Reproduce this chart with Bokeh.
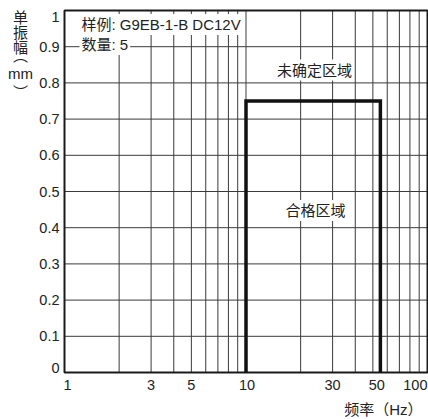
import math
from bokeh.plotting import figure
from bokeh.models import Range1d, Label, ColumnDataSource
from bokeh.embed import file_html
from bokeh.resources import INLINE

# ---- data ----
freq_grid = [1, 2, 3, 4, 5, 6, 7, 8, 9, 10, 20, 30, 40, 50, 60, 70, 80, 90, 100]
amp_grid = [0.0, 0.1, 0.2, 0.3, 0.4, 0.5, 0.6, 0.7, 0.8, 0.9, 1.0]
x_tick_values = [1, 3, 5, 10, 30, 50, 100]
x_tick_labels = ["1", "3", "5", "10", "30", "50", "100"]
y_tick_values = [0.0, 0.1, 0.2, 0.3, 0.4, 0.5, 0.6, 0.7, 0.8, 0.9, 1.0]
y_tick_labels = ["0", "0.1", "0.2", "0.3", "0.4", "0.5", "0.6", "0.7", "0.8", "0.9", "1"]
zone_freq = [10, 10, 55, 55]
zone_amp = [0.0, 0.75, 0.75, 0.0]

# ---- layout (pixels) ----
W, H = 428, 419
PL, PR, PT, PB = 64, 427, 10, 372          # plot-area edges on canvas
xmin, xmax = freq_grid[0], freq_grid[-1]
ymin, ymax = amp_grid[0], amp_grid[-1]
ppd = (PR - PL) / (math.log10(xmax) - math.log10(xmin))   # px per decade
ppu = (PB - PT) / (ymax - ymin)                           # px per unit
x_start = 10 ** (math.log10(xmin) - PL / ppd)
x_end = 10 ** (math.log10(xmax) + (W - PR) / ppd)
y_start = ymin - (H - PB) / ppu
y_end = ymax + PT / ppu

def xd(px):
    return 10 ** (math.log10(xmin) + (px - PL) / ppd)

def yd(py):
    return ymin + (PB - py) / ppu

FONT = "Liberation Sans, Noto Sans CJK SC"
FS_TICK = "14.5px"
FS = "15px"
TXT = "#222222"

p = figure(width=W, height=H, x_axis_type="log",
           x_range=Range1d(x_start, x_end), y_range=Range1d(y_start, y_end),
           output_backend="svg", toolbar_location=None,
           min_border=0, min_border_left=0, min_border_right=0,
           min_border_top=0, min_border_bottom=0)
p.xaxis.visible = False
p.yaxis.visible = False
p.xgrid.visible = False
p.ygrid.visible = False
p.outline_line_color = None
p.background_fill_color = "white"
p.border_fill_color = "white"

# grid lines
vgrid = ColumnDataSource(dict(x=freq_grid, y0=[ymin] * len(freq_grid), y1=[ymax] * len(freq_grid)))
hgrid = ColumnDataSource(dict(y=amp_grid, x0=[xmin] * len(amp_grid), x1=[xmax] * len(amp_grid)))
p.segment(x0="x", y0="y0", x1="x", y1="y1", source=vgrid, line_color="#3a3a3a", line_width=1)
p.segment(x0="x0", y0="y", x1="x1", y1="y", source=hgrid, line_color="#3a3a3a", line_width=1)

# plot-area frame
p.quad(left=[xmin], right=[xmax], bottom=[ymin], top=[ymax], fill_color=None,
       line_color="#1a1a1a", line_width=2)

# acceptable zone boundary
p.line(zone_freq, zone_amp, line_color="#111111", line_width=3.5, line_join="miter")

# x tick labels
for v, t in zip(x_tick_values, x_tick_labels):
    align, off = "center", 0
    if v == xmin:
        off = 3
    elif v == xmax:
        align = "right"
    elif v == 10:
        off = 1
    elif v == 50:
        off = 4
    p.add_layout(Label(x=v, y=yd(384), text=t, text_align=align, x_offset=off,
                       text_baseline="middle", text_font=FONT, text_font_size=FS_TICK,
                       text_color=TXT))

# y tick labels
for v, t in zip(y_tick_values, y_tick_labels):
    yy = v
    if v == ymax:
        yy = yd(16)
    elif v == ymin:
        yy = yd(367.5)
    p.add_layout(Label(x=xmin, y=yy, text=t, text_align="right", x_offset=-5,
                       text_baseline="middle", text_font=FONT, text_font_size=FS_TICK,
                       text_color=TXT))

# y axis title, stacked vertically
for t, py in [("单", 16.5), ("振", 31.5), ("幅", 47), ("︵", 55), ("mm", 73), ("︶", 92)]:
    p.add_layout(Label(x=xd(20), y=yd(py), text=t, text_align="center", text_baseline="middle",
                       text_font=FONT, text_font_size=FS, text_color=TXT))

# x axis title
p.add_layout(Label(x=xmax, y=yd(409), text="频率（Hz）", text_align="right", x_offset=-5,
                   text_baseline="middle", text_font=FONT, text_font_size=FS,
                   text_color=TXT))

# annotations inside plot
for t, xx, yy, align, xo in [("样例: G9EB-1-B DC12V", xmin, yd(24), "left", 15),
                             ("数量: 5", xmin, yd(44), "left", 15),
                             ("未确定区域", xd(314), yd(69.5), "center", 0),
                             ("合格区域", xd(315), yd(210), "center", 0)]:
    p.add_layout(Label(x=xx, y=yy, text=t, text_align=align, x_offset=xo,
                       text_baseline="middle", text_font=FONT, text_font_size=FS,
                       text_color=TXT, background_fill_color="white",
                       padding=2))

open("out.html", "w").write(file_html(p, INLINE))
